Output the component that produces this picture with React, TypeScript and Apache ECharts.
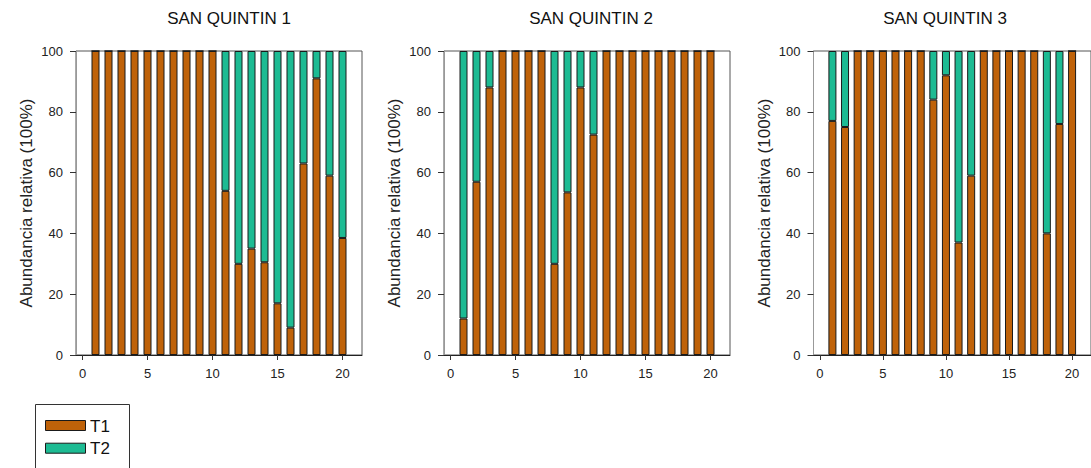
import React, { useEffect, useRef } from "react";
import * as echarts from "echarts";

// Axis slots along the transect: 0 and 21 are empty padding slots
const slots = ["0", "1", "2", "3", "4", "5", "6", "7", "8", "9", "10", "11", "12", "13", "14", "15", "16", "17", "18", "19", "20", "21"];
// Sample positions that carry bars
const positions = [1, 2, 3, 4, 5, 6, 7, 8, 9, 10, 11, 12, 13, 14, 15, 16, 17, 18, 19, 20];
const xTickLabels = ["0", "5", "10", "15", "20"];

const siteNames = ["SAN QUINTIN 1", "SAN QUINTIN 2", "SAN QUINTIN 3"];
const seriesNames = ["T1", "T2"];

// Relative abundance (%) per site
const site1T1 = [100, 100, 100, 100, 100, 100, 100, 100, 100, 100, 54, 30, 35, 30.5, 17, 9, 63, 91, 59, 38.5];
const site1T2 = [0, 0, 0, 0, 0, 0, 0, 0, 0, 0, 46, 70, 65, 69.5, 83, 91, 37, 9, 41, 61.5];

const site2T1 = [12, 57, 88, 100, 100, 100, 100, 30, 53.5, 88, 72.5, 100, 100, 100, 100, 100, 100, 100, 100, 100];
const site2T2 = [88, 43, 12, 0, 0, 0, 0, 70, 46.5, 12, 27.5, 0, 0, 0, 0, 0, 0, 0, 0, 0];

const site3T1 = [77, 75, 100, 100, 100, 100, 100, 100, 84, 92, 37, 59, 100, 100, 100, 100, 100, 40, 76, 100];
const site3T2 = [23, 25, 0, 0, 0, 0, 0, 0, 16, 8, 63, 41, 0, 0, 0, 0, 0, 60, 24, 0];

const yAxisTitle = "Abundancia relativa (100%)";

const FONT = 'Arial, "Liberation Sans", Helvetica, sans-serif';
const ORANGE = "#BF6209";
const TEAL = "#1DBB93";
const COLORS = [ORANGE, TEAL];

const gridLefts = [76, 444, 813.5];
const titleCenters = [229, 591, 945];
const GRID_TOP = 51;
const GRID_W = 286;
const GRID_H = 304;

export default function App() {
  const ref = useRef<HTMLDivElement>(null);

  useEffect(() => {
    if (!ref.current) return;
    const chart = echarts.init(ref.current, null, { renderer: "svg" });

    const sites = [
      [site1T1, site1T2],
      [site2T1, site2T2],
      [site3T1, site3T2],
    ];

    const showSlot = (idx: number) => xTickLabels.includes(slots[idx]);

    const grids = gridLefts.map((left) => ({
      left,
      top: GRID_TOP,
      width: GRID_W,
      height: GRID_H,
      show: true,
      borderColor: "#555",
      borderWidth: 1,
      backgroundColor: "transparent",
    }));

    const xAxes = gridLefts.map((_, i) => ({
      type: "category",
      gridIndex: i,
      data: slots,
      boundaryGap: true,
      splitLine: { show: false },
      axisLine: { show: true, onZero: false, lineStyle: { color: "#222", width: 1 } },
      axisTick: {
        show: true,
        inside: false,
        length: 5,
        alignWithLabel: true,
        interval: showSlot,
        lineStyle: { color: "#333" },
      },
      axisLabel: {
        interval: showSlot,
        margin: 12,
        fontFamily: FONT,
        fontSize: 13,
        color: "#222",
      },
    }));

    const yAxes = gridLefts.map((_, i) => ({
      type: "value",
      gridIndex: i,
      min: 0,
      max: 100,
      interval: 20,
      splitLine: { show: false },
      axisLine: { show: true, onZero: false, lineStyle: { color: "#999", width: 1 } },
      axisTick: { show: true, inside: false, length: 6, lineStyle: { color: "#333" } },
      axisLabel: {
        margin: 13,
        fontFamily: FONT,
        fontSize: 13,
        color: "#222",
      },
      name: yAxisTitle,
      nameLocation: "middle",
      nameGap: 41,
      nameTextStyle: { fontFamily: FONT, fontSize: 17, color: "#222" },
    }));

    const series: any[] = [];
    sites.forEach((pair, i) => {
      pair.forEach((vals, k) => {
        const data: (number | string)[] = slots.map(() => "-");
        positions.forEach((p, j) => {
          data[slots.indexOf(String(p))] = vals[j];
        });
        series.push({
          name: seriesNames[k],
          type: "bar",
          xAxisIndex: i,
          yAxisIndex: i,
          stack: "site" + i,
          barWidth: 8,
          data,
          itemStyle: {
            color: COLORS[k],
            borderColor: "#1a1a1a",
            borderWidth: 1,
          },
        });
      });
    });

    const titles = siteNames.map((name, i) => ({
      type: "text",
      x: titleCenters[i],
      y: 18,
      style: {
        text: name,
        align: "center",
        verticalAlign: "middle",
        fontFamily: FONT,
        fontSize: 17,
        fill: "#111",
      },
    }));

    // Legend box drawn at the lower left
    const legendItems = seriesNames.flatMap((name, k) => [
      {
        type: "rect",
        shape: { x: 45.5, y: 420.5 + k * 22.7, width: 40, height: 10 },
        style: { fill: COLORS[k], stroke: "#1a1a1a", lineWidth: 1 },
      },
      {
        type: "text",
        x: 90,
        y: 426 + k * 22.7,
        style: {
          text: name,
          align: "left",
          verticalAlign: "middle",
          fontFamily: FONT,
          fontSize: 17,
          fill: "#111",
        },
      },
    ]);

    chart.setOption({
      animation: false,
      backgroundColor: "#fff",
      grid: grids,
      xAxis: xAxes,
      yAxis: yAxes,
      series,
      graphic: [
        ...titles,
        {
          type: "rect",
          shape: { x: 35.5, y: 404.5, width: 94, height: 80 },
          style: { fill: "#fff", stroke: "#333", lineWidth: 1 },
        },
        ...legendItems,
      ],
    });

    return () => chart.dispose();
  }, []);

  return (
    <div
      ref={ref}
      style={{ position: "absolute", left: 0, top: 0, width: 1091, height: 468 }}
    />
  );
}
